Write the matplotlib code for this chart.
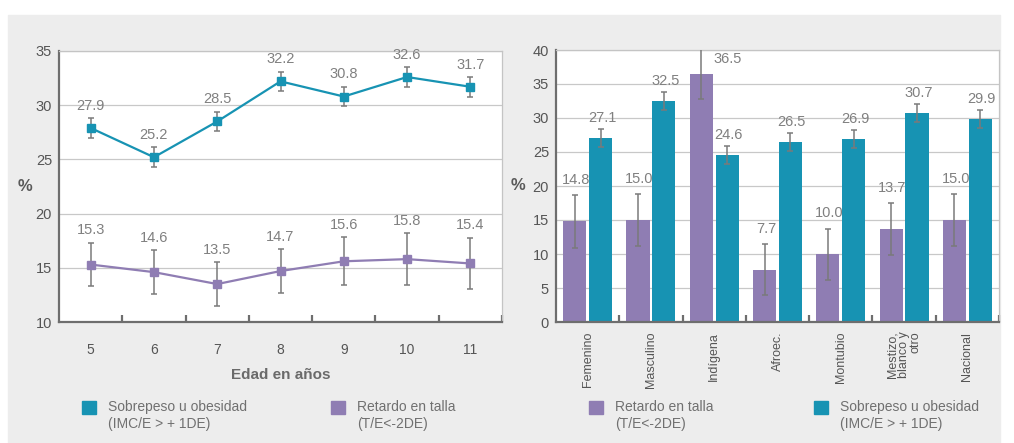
import matplotlib.pyplot as plt
import matplotlib.ticker as ticker
from matplotlib.patches import Rectangle

plt.rcParams['font.family'] = ['Liberation Sans', 'DejaVu Sans']

# Datos: grafico de lineas por edad
edades = ['5', '6', '7', '8', '9', '10', '11']
sobrepeso_edad = [27.9, 25.2, 28.5, 32.2, 30.8, 32.6, 31.7]
sobrepeso_edad_err = [0.9, 0.9, 0.9, 0.9, 0.9, 0.9, 0.9]
retardo_edad = [15.3, 14.6, 13.5, 14.7, 15.6, 15.8, 15.4]
retardo_edad_err = [2.0, 2.0, 2.0, 2.0, 2.2, 2.4, 2.35]

# Datos: grafico de barras por grupo
grupos = ['Femenino', 'Masculino', 'Indígena', 'Afroec.', 'Montubio',
          'Mestizo,\nblanco y\notro', 'Nacional']
retardo_grupo = [14.8, 15.0, 36.5, 7.7, 10.0, 13.7, 15.0]
retardo_grupo_err = [3.85, 3.85, 3.7, 3.8, 3.75, 3.8, 3.8]
sobrepeso_grupo = [27.1, 32.5, 24.6, 26.5, 26.9, 30.7, 29.9]
sobrepeso_grupo_err = [1.3, 1.3, 1.3, 1.3, 1.3, 1.3, 1.3]

lbl_sobrepeso = 'Sobrepeso u obesidad\n(IMC/E > + 1DE)'
lbl_retardo = 'Retardo en talla\n(T/E<-2DE)'

teal = '#1793b3'
morado = '#8f7db3'
gris_txt = '#555555'
gris_lbl = '#808080'
gris_err = '#7a7a7a'

fig = plt.figure(figsize=(10.14, 4.43), dpi=100)
fig.patches.append(Rectangle((8 / 1014, 0), 992 / 1014, 1 - 15 / 443,
                             transform=fig.transFigure, color='#ededed', zorder=-10))


def estilo_ejes(ax):
    ax.set_facecolor('white')
    for s in ['left', 'bottom']:
        ax.spines[s].set_color('#6e6e6e')
        ax.spines[s].set_linewidth(1.6)
    for s in ['top', 'right']:
        ax.spines[s].set_color('#c4c4c4')
        ax.spines[s].set_linewidth(0.9)
    ax.grid(axis='y', color='#c8c8c8', linewidth=0.9)
    ax.set_axisbelow(True)
    ax.tick_params(axis='y', length=0, pad=5, labelsize=10.5, labelcolor=gris_txt)
    ax.tick_params(axis='x', which='major', length=0, labelcolor=gris_txt)
    ax.tick_params(axis='x', which='minor', direction='in', length=5, width=1.6,
                   color='#6e6e6e')


# ---------- Izquierda: lineas ----------
ax1 = fig.add_axes([59 / 1014, 1 - 322 / 443, 443 / 1014, 271 / 443])
estilo_ejes(ax1)
x = list(range(len(edades)))

ax1.errorbar(x, sobrepeso_edad, yerr=sobrepeso_edad_err, color=teal, lw=1.6,
             marker='s', ms=5.5, ecolor=gris_err, elinewidth=1.1, capsize=2.2,
             capthick=1.1, zorder=3)
ax1.errorbar(x, retardo_edad, yerr=retardo_edad_err, color=morado, lw=1.6,
             marker='s', ms=5.5, ecolor=gris_err, elinewidth=1.1, capsize=2.2,
             capthick=1.1, zorder=3)

for xi, v, e in zip(x, sobrepeso_edad, sobrepeso_edad_err):
    ax1.annotate(f'{v:.1f}', (xi, v + e), xytext=(0, 9), textcoords='offset points',
                 ha='center', va='center', fontsize=10.5, color=gris_lbl)
for xi, v, e in zip(x, retardo_edad, retardo_edad_err):
    ax1.annotate(f'{v:.1f}', (xi, v + e), xytext=(0, 9), textcoords='offset points',
                 ha='center', va='center', fontsize=10.5, color=gris_lbl)

ax1.set_xlim(-0.5, len(edades) - 0.5)
ax1.set_ylim(10, 35)
ax1.yaxis.set_major_locator(ticker.MultipleLocator(5))
ax1.set_xticks(x)
ax1.set_xticklabels(edades)
ax1.xaxis.set_minor_locator(ticker.FixedLocator([i + 0.5 for i in x]))
ax1.tick_params(axis='x', which='major', pad=15, labelsize=10)
ax1.set_xlabel('Edad en años', fontsize=11, fontweight='bold', color='#6a6a6a',
               labelpad=8)
ax1.set_ylabel('%', rotation=0, fontsize=12, fontweight='bold', color='#5a5a5a',
               va='center', ha='center')
ax1.yaxis.set_label_coords(-0.077, 0.5)

# ---------- Derecha: barras ----------
ax2 = fig.add_axes([556 / 1014, 1 - 322 / 443, 443 / 1014, 272 / 443])
estilo_ejes(ax2)
xg = list(range(len(grupos)))
ancho = 0.365
off = 0.205

xr = [i - off for i in xg]
xs = [i + off for i in xg]
ax2.bar(xr, retardo_grupo, width=ancho, color=morado, zorder=2)
ax2.bar(xs, sobrepeso_grupo, width=ancho, color=teal, zorder=2)
ax2.errorbar(xr, retardo_grupo, yerr=retardo_grupo_err, fmt='none', ecolor=gris_err,
             elinewidth=1.1, capsize=2, capthick=1.1, zorder=3)
ax2.errorbar(xs, sobrepeso_grupo, yerr=sobrepeso_grupo_err, fmt='none', ecolor=gris_err,
             elinewidth=1.1, capsize=2, capthick=1.1, zorder=3)

for xi, v, e in zip(xr, retardo_grupo, retardo_grupo_err):
    if v + e > 37:
        # no cabe arriba: se pone a la derecha
        ax2.annotate(f'{v:.1f}', (xi + 2 * off, 38.7), ha='center', va='center',
                     fontsize=10.5, color=gris_lbl)
    else:
        ax2.annotate(f'{v:.1f}', (xi, v + e), xytext=(1, 11), textcoords='offset points',
                     ha='center', va='center', fontsize=10.5, color=gris_lbl)
for xi, v, e in zip(xs, sobrepeso_grupo, sobrepeso_grupo_err):
    ax2.annotate(f'{v:.1f}', (xi, v + e), xytext=(1, 8), textcoords='offset points',
                 ha='center', va='center', fontsize=10.5, color=gris_lbl)

ax2.set_xlim(-0.5, len(grupos) - 0.5)
ax2.set_ylim(0, 40)
ax2.yaxis.set_major_locator(ticker.MultipleLocator(5))
ax2.set_xticks(xg)
ax2.set_xticklabels(grupos, rotation=90, va='top', ha='center', multialignment='right',
                    fontsize=9, linespacing=0.95)
ax2.xaxis.set_minor_locator(ticker.FixedLocator([i + 0.5 for i in xg]))
ax2.tick_params(axis='x', which='major', pad=7)
ax2.set_ylabel('%', rotation=0, fontsize=12, fontweight='bold', color='#5a5a5a',
               va='center', ha='center')
ax2.yaxis.set_label_coords(-0.086, 0.5)

# ---------- Leyendas ----------
leyendas = [(82, teal, lbl_sobrepeso), (331, morado, lbl_retardo),
            (589, morado, lbl_retardo), (814, teal, lbl_sobrepeso)]
for px, col, txt in leyendas:
    fig.patches.append(Rectangle((px / 1014, 1 - 414 / 443), 14 / 1014, 13 / 443,
                                 transform=fig.transFigure, color=col))
    fig.text((px + 26) / 1014, 1 - 400 / 443, txt, ha='left', va='top',
             fontsize=10, color='#707070', linespacing=1.25)

fig.savefig('out.png', dpi=100)
